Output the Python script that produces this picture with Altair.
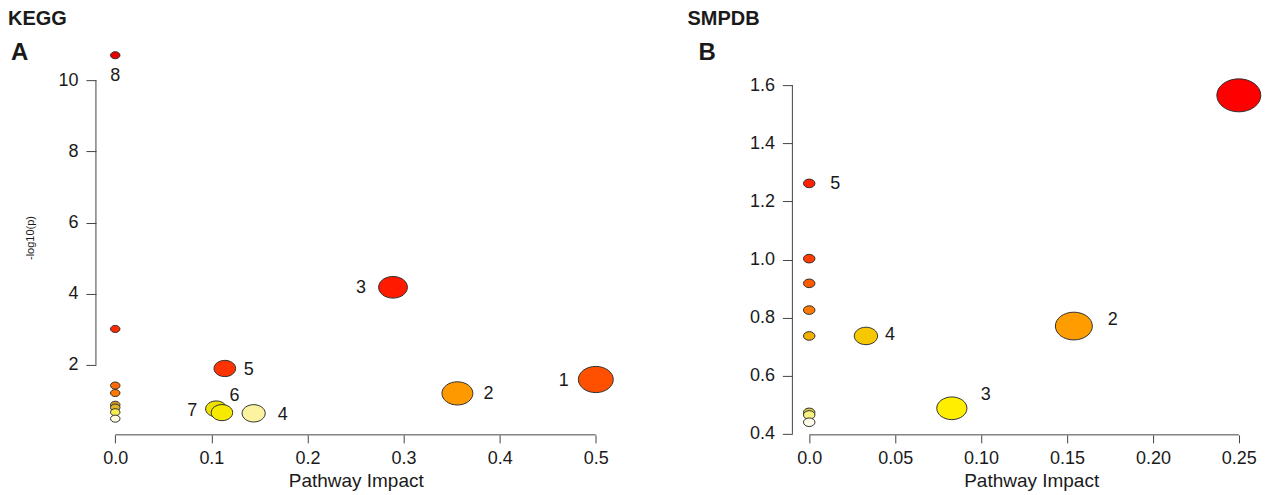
import altair as alt
import pandas as pd

# ---------------- data ----------------
# Panel A : KEGG
kegg_label = ["8", "", "", "", "", "", "", "", "5", "7", "6", "4", "3", "2", "1"]
kegg_impact = [0.0, 0.0, 0.0, 0.0, 0.0, 0.0, 0.0, 0.0, 0.114, 0.105, 0.111, 0.144, 0.289, 0.356, 0.500]
kegg_logp = [10.70, 3.01, 1.42, 1.21, 0.88, 0.80, 0.67, 0.49, 1.90, 0.765, 0.66, 0.64, 4.18, 1.20, 1.59]
kegg_xticks = [0.0, 0.1, 0.2, 0.3, 0.4, 0.5]
kegg_yticks = [2, 4, 6, 8, 10]

# Panel B : SMPDB
smpdb_label = ["", "5", "", "", "", "", "", "", "", "4", "3", "2"]
smpdb_impact = [0.25, 0.0, 0.0, 0.0, 0.0, 0.0, 0.0, 0.0, 0.0, 0.033, 0.083, 0.154]
smpdb_logp = [1.565, 1.262, 1.003, 0.918, 0.826, 0.737, 0.474, 0.465, 0.440, 0.737, 0.488, 0.771]
smpdb_xticks = [0.0, 0.05, 0.10, 0.15, 0.20, 0.25]
smpdb_yticks = [0.4, 0.6, 0.8, 1.0, 1.2, 1.4, 1.6]

# ---------------- styles ----------------
kegg_fill = ["#e60000", "#ff2a00", "#ff6a00", "#ff7800", "#d89c1e", "#e2b42a", "#f4ee50", "#fffce0",
             "#ff3300", "#efe000", "#f7ea00", "#fbf3a0", "#ff1a00", "#ff9900", "#ff5000"]
smpdb_fill = ["#ff0000", "#ff2200", "#ff3d00", "#ff5a00", "#ff7a00", "#f2b000", "#d8cc50", "#f8f080",
              "#fffbe8", "#f5c800", "#ffee00", "#ff9c00"]
kegg_label_offsets = {"8": (0, 21), "5": (24, 2), "6": (12.5, -17), "7": (-24, 2),
                      "4": (29, 1.5), "3": (-32, 1), "2": (31, 1), "1": (-32, 1.5)}
smpdb_label_offsets = {"5": (26, 1), "4": (24, -1), "3": (34, -13), "2": (39, -6)}

FONT = "Liberation Sans"
INK = "#1a1a1a"
AXC = "#444444"
ELLIPSE = "M-1,0A1,0.75,0,1,1,1,0A1,0.75,0,1,1,-1,0Z"
W_A, W_B, H = 520, 464, 395


def panel(tag, impact, logp, labels, fills, offsets, xdom, ydom, width, xticks, yticks,
          xlabel_expr, ylabel_expr, ytitle, base_w, k_w, db_name, name_dx, letter, letter_dx,
          xtitle_shift):
    n = len(impact)
    df = pd.DataFrame({"id": [f"{tag}{i:02d}" for i in range(n)], "impact": impact,
                       "logp": logp, "label": labels})
    yaxis_kw = dict(values=yticks, labelExpr=ylabel_expr, tickSize=10, labelPadding=8)
    if ytitle:
        yaxis_kw.update(title=ytitle, titleFontSize=11, titlePadding=22)
    else:
        yaxis_kw.update(title=None)
    xscale = alt.Scale(domain=xdom, nice=False, zero=False)
    yscale = alt.Scale(domain=ydom, nice=False, zero=False)
    xaxis = alt.Axis(values=xticks, labelExpr=xlabel_expr, title="Pathway Impact",
                     tickSize=8, labelPadding=7, titleFontSize=19, titlePadding=4,
                     titleX=width / 2 + xtitle_shift)
    yaxis = alt.Axis(**yaxis_kw)
    x = alt.X("impact:Q", scale=xscale, axis=xaxis)
    y = alt.Y("logp:Q", scale=yscale, axis=yaxis)

    pts = alt.Chart(df).transform_calculate(
        sz=f"pow({base_w} + {k_w} * sqrt(datum.impact), 2)"
    ).mark_point(shape=ELLIPSE, filled=True, stroke="#303030", strokeWidth=1,
                 opacity=1, fillOpacity=1).encode(
        x=x, y=y,
        size=alt.Size("sz:Q", scale=None, legend=None),
        fill=alt.Fill("id:N", scale=alt.Scale(domain=list(df["id"]), range=fills), legend=None),
    )

    # axis lines spanning only the tick range (R style)
    rules = pd.DataFrame({"impact": [xticks[0]], "xhi": [xticks[-1]],
                          "logp": [yticks[0]], "yhi": [yticks[-1]]})
    yline = alt.Chart(rules).mark_rule(color=AXC, strokeWidth=1).encode(
        x=alt.value(0), y=y, y2="yhi:Q")
    xline = alt.Chart(rules).mark_rule(color=AXC, strokeWidth=1).encode(
        y=alt.value(H), x=x, x2="xhi:Q")
    layers = [pts, yline, xline]

    for lab, (dx, dy) in offsets.items():
        layers.append(
            alt.Chart(df).transform_filter(alt.datum.label == lab).mark_text(
                dx=dx, dy=dy, fontSize=18, font=FONT, color=INK, align="center", baseline="middle"
            ).encode(x=x, y=y, text="label:N")
        )

    heads = pd.DataFrame({"name": [db_name], "letter": [letter]})
    layers.append(alt.Chart(heads).mark_text(
        align="left", baseline="alphabetic", fontSize=20, fontWeight="bold", font=FONT, color=INK
    ).encode(x=alt.value(name_dx), y=alt.value(-15.5), text="name:N"))
    layers.append(alt.Chart(heads).mark_text(
        align="left", baseline="alphabetic", fontSize=24, fontWeight="bold", font=FONT, color=INK
    ).encode(x=alt.value(letter_dx), y=alt.value(20), text="letter:N"))

    return alt.layer(*layers).properties(width=width, height=H)


A = panel("a", kegg_impact, kegg_logp, kegg_label, kegg_fill, kegg_label_offsets,
          [-0.0201, 0.5205], [0.035, 11.123], W_A, kegg_xticks, kegg_yticks,
          "format(datum.value, '.1f')", "format(datum.value, 'd')", "-log10(p)",
          9.5, 36, "KEGG", -88, "A", -85, 0)
B = panel("b", smpdb_impact, smpdb_logp, smpdb_label, smpdb_fill, smpdb_label_offsets,
          [-0.0098, 0.2600], [0.3966, 1.7549], W_B, smpdb_xticks, smpdb_yticks,
          "datum.value == 0 ? '0.0' : format(datum.value, '.2f')", "format(datum.value, '.1f')", None,
          11.5, 65, "SMPDB", -105, "B", -94, 7)

chart = alt.hconcat(A, B, spacing=177, bounds="flush").resolve_scale(
    fill="independent", size="independent"
).properties(padding=0).configure_view(
    strokeOpacity=0
).configure_axis(
    grid=False, domain=False, tickColor=AXC, tickWidth=1, labelFont=FONT, labelFontSize=18,
    labelColor=INK, titleFont=FONT, titleColor=INK, titleFontWeight="normal",
    labelFlush=False, labelOverlap=False
)

chart.save("out.html", embed_options={"renderer": "svg", "actions": False})
